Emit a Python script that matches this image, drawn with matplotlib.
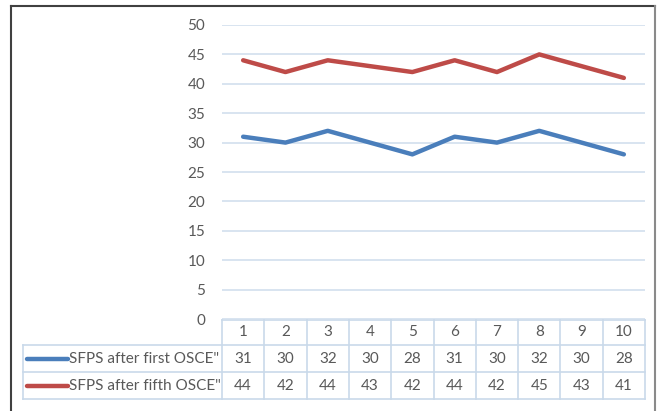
import matplotlib.pyplot as plt
from matplotlib.lines import Line2D

plt.rcParams['font.family'] = ['Lato', 'DejaVu Sans']

sessions = [1, 2, 3, 4, 5, 6, 7, 8, 9, 10]
first_osce = [31, 30, 32, 30, 28, 31, 30, 32, 30, 28]
fifth_osce = [44, 42, 44, 43, 42, 44, 42, 45, 43, 41]
series_names = ['SFPS after first OSCE"', 'SFPS after fifth OSCE"']
y_ticks = [0, 5, 10, 15, 20, 25, 30, 35, 40, 45, 50]

W, H = 657, 411
fig = plt.figure(figsize=(W / 100, H / 100), dpi=100)
fig.patch.set_facecolor('white')

# plot area in pixels
x0, x1 = 222, 645
y_top, y_bot = 25, 319
ax = fig.add_axes([x0 / W, 1 - y_bot / H, (x1 - x0) / W, (y_bot - y_top) / H])

text_col = '#595959'
grid_col = '#d6e2ef'
border_col = '#c9d9ea'
blue = '#4a7ebb'
red = '#be4b48'
fs = 11

for v in y_ticks:
    ax.axhline(v, color=grid_col, lw=1.3, zorder=0)

ax.plot(sessions, first_osce, color=blue, lw=3.2, solid_capstyle='round', zorder=3)
ax.plot(sessions, fifth_osce, color=red, lw=3.2, solid_capstyle='round', zorder=3)

ax.set_xlim(0.5, 10.5)
ax.set_ylim(0, 50)
ax.set_yticks(y_ticks)
ax.set_yticklabels([str(v) for v in y_ticks], color=text_col, fontsize=fs)
ax.tick_params(axis='y', length=0, pad=12)
ax.set_xticks([])
for s in ax.spines.values():
    s.set_visible(False)

# data table below the plot (figure pixel coords)
def fx(px):
    return px / W

def fy(py):
    return 1 - py / H

col_w = (x1 - x0) / len(sessions)
row_edges = [320, 345, 372, 399]
label_left = 23
tlines = []
tlines.append(((x0, x1), (row_edges[0], row_edges[0])))
for r in row_edges[1:]:
    tlines.append(((label_left, x1), (r, r)))
tlines.append(((label_left, label_left), (row_edges[1], row_edges[3])))
for i in range(len(sessions) + 1):
    xx = x0 + i * col_w
    tlines.append(((xx, xx), (row_edges[0], row_edges[3])))
for (xs, ys) in tlines:
    fig.add_artist(Line2D([fx(xs[0]), fx(xs[1])], [fy(ys[0]), fy(ys[1])],
                          color=border_col, lw=1.2))

rows = [sessions, first_osce, fifth_osce]
for r, vals in enumerate(rows):
    yc = (row_edges[r] + row_edges[r + 1]) / 2
    for i, v in enumerate(vals):
        xc = x0 + (i + 0.5) * col_w
        fig.text(fx(xc), fy(yc), str(v), ha='center', va='center',
                 color=text_col, fontsize=fs)

for k, (name, col) in enumerate(zip(series_names, [blue, red])):
    yc = (row_edges[k + 1] + row_edges[k + 2]) / 2
    fig.add_artist(Line2D([fx(27), fx(68)], [fy(yc), fy(yc)], color=col, lw=3.2,
                          solid_capstyle='round'))
    fig.text(fx(69), fy(yc), name, ha='left', va='center', color=text_col,
             fontsize=fs)

# outer frame
fig.add_artist(Line2D([fx(11), fx(11)], [fy(6), 0], color='#404040', lw=1.5))
fig.add_artist(Line2D([fx(11), fx(655)], [fy(6), fy(6)], color='#404040', lw=1.5))
fig.add_artist(Line2D([fx(655), fx(655)], [fy(6), 0], color='#8a8a8a', lw=1.5))

fig.savefig('out.png', dpi=100)
